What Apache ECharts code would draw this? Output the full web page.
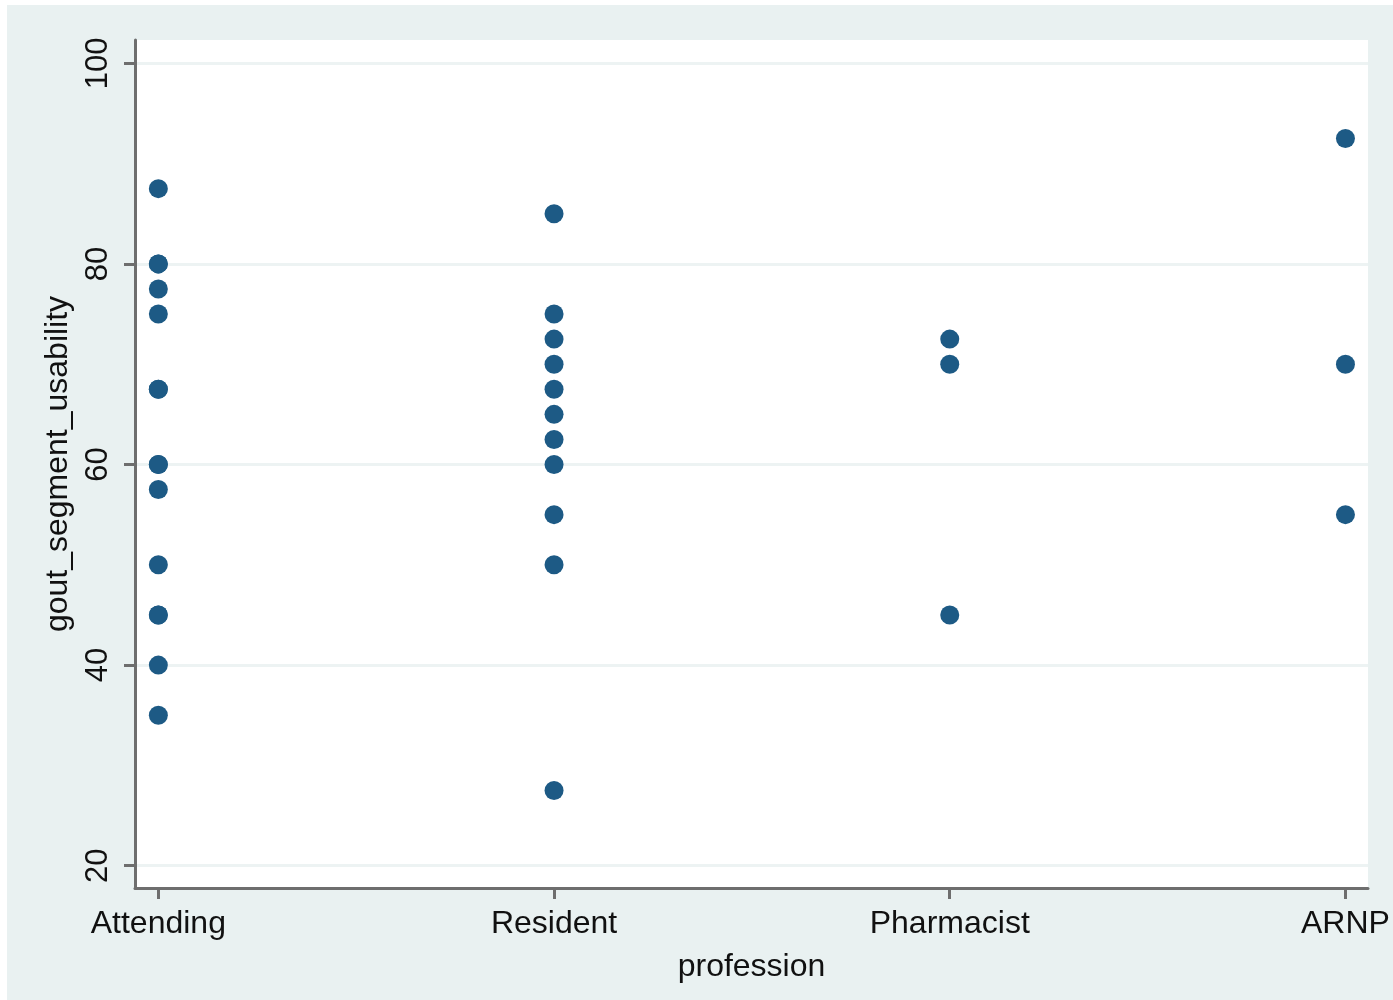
<!DOCTYPE html>
<html>
<head>
<meta charset="utf-8">
<script src="https://cdn.jsdelivr.net/npm/echarts@6/dist/echarts.min.js"></script>
<style>
  html, body { margin: 0; padding: 0; background: #ffffff; }
  #chart { position: absolute; left: 7px; top: 5px; width: 1386px; height: 995px; background: #e9f1f1; }
</style>
</head>
<body>
<div id="chart"></div>
<script>
// Profession categories, placed at x = 1..4
const professions = ['Attending', 'Resident', 'Pharmacist', 'ARNP'];

// gout_segment_usability scores per profession (repeated values listed twice)
const attendingScores = [87.5, 80, 80, 77.5, 75, 67.5, 67.5, 60, 60, 57.5, 50, 45, 45, 40, 35];
const residentScores = [85, 75, 72.5, 70, 67.5, 65, 62.5, 60, 55, 50, 27.5];
const pharmacistScores = [72.5, 70, 45];
const arnpScores = [92.5, 70, 55];

// Y axis tick values
const yTicks = [20, 40, 60, 80, 100];
const xTicks = [1, 2, 3, 4];

const groups = [attendingScores, residentScores, pharmacistScores, arnpScores];
const points = [];
groups.forEach((scores, i) => {
  scores.forEach(v => points.push([i + 1, v]));
});

const chart = echarts.init(document.getElementById('chart'));
const axisColor = '#6e6e6e';
const font = '"Liberation Sans", Arial, sans-serif';

chart.setOption({
  animation: false,
  grid: { left: 128, right: 25, top: 35, bottom: 112, backgroundColor: '#ffffff', show: true, borderWidth: 0 },
  xAxis: {
    type: 'value',
    min: 0.941,
    max: 4.057,
    name: 'profession',
    nameLocation: 'middle',
    nameGap: 63,
    nameTextStyle: { fontFamily: font, fontSize: 32, color: '#111' },
    axisLine: { show: true, onZero: false, lineStyle: { color: axisColor, width: 3 } },
    axisTick: { show: true, length: 11, customValues: xTicks, lineStyle: { color: axisColor, width: 3 } },
    axisLabel: {
      customValues: xTicks,
      margin: 20,
      fontFamily: font, fontSize: 32, color: '#111',
      formatter: v => professions[Math.round(v) - 1] || ''
    },
    splitLine: { show: false }
  },
  yAxis: {
    type: 'value',
    min: 17.78,
    max: 102.32,
    name: 'gout_segment_usability',
    nameLocation: 'middle',
    nameGap: 59,
    nameRotate: 90,
    nameTextStyle: { fontFamily: font, fontSize: 32, color: '#111' },
    axisLine: { show: true, lineStyle: { color: axisColor, width: 3 } },
    axisTick: { show: true, length: 11, customValues: yTicks, lineStyle: { color: axisColor, width: 3 } },
    axisLabel: {
      customValues: yTicks,
      rotate: 90,
      margin: 37,
      align: 'center',
      verticalAlign: 'middle',
      fontFamily: font, fontSize: 31, color: '#111'
    },
    splitLine: { show: true, lineStyle: { color: '#edf3f3', width: 3 } }
  },
  series: [{
    type: 'scatter',
    data: points,
    symbol: 'circle',
    symbolSize: 19,
    itemStyle: { color: '#1d5a85', opacity: 1 }
  }]
});
</script>
</body>
</html>
